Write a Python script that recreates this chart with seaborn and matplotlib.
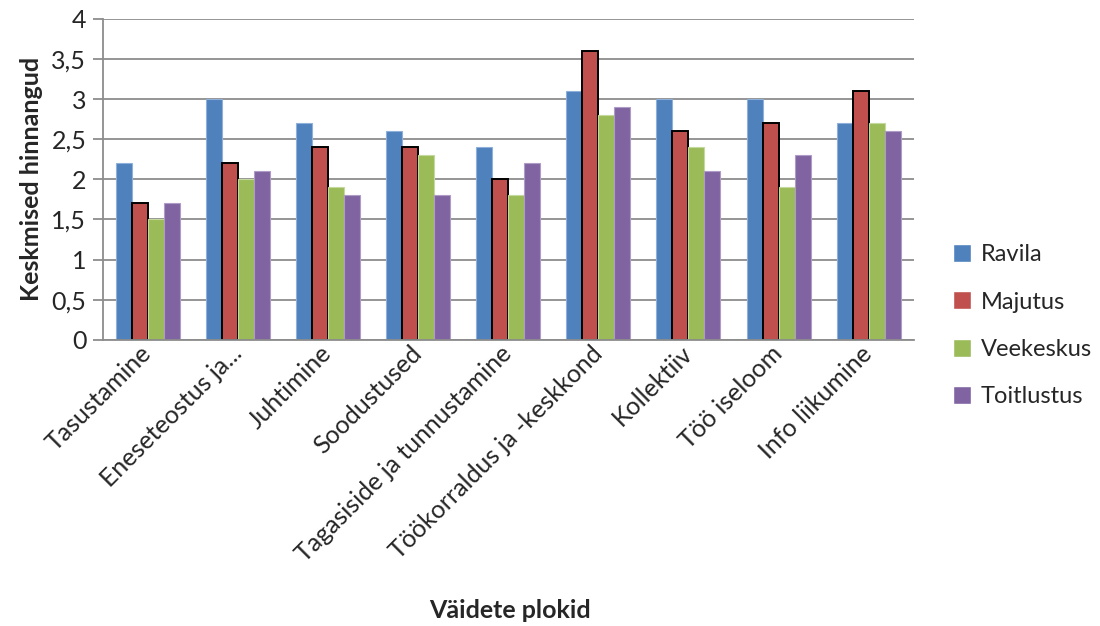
import pandas as pd
import seaborn as sns
import matplotlib.pyplot as plt
from matplotlib.transforms import ScaledTranslation

# Values
categories = ['Tasustamine', 'Eneseteostus ja...', 'Juhtimine', 'Soodustused',
              'Tagasiside ja tunnustamine', 'Töökorraldus ja -keskkond',
              'Kollektiiv', 'Töö iseloom', 'Info liikumine']
series = ['Ravila', 'Majutus', 'Veekeskus', 'Toitlustus']
ravila = [2.2, 3.0, 2.7, 2.6, 2.4, 3.1, 3.0, 3.0, 2.7]
majutus = [1.7, 2.2, 2.4, 2.4, 2.0, 3.6, 2.6, 2.7, 3.1]
veekeskus = [1.5, 2.0, 1.9, 2.3, 1.8, 2.8, 2.4, 1.9, 2.7]
toitlustus = [1.7, 2.1, 1.8, 1.8, 2.2, 2.9, 2.1, 2.3, 2.6]
y_ticks = [0, 0.5, 1, 1.5, 2, 2.5, 3, 3.5, 4]

df = pd.DataFrame({'plokk': categories, 'Ravila': ravila, 'Majutus': majutus,
                   'Veekeskus': veekeskus, 'Toitlustus': toitlustus})
df = df.melt(id_vars='plokk', var_name='grupp', value_name='hinnang')

palette = {'Ravila': '#4F81BD', 'Majutus': '#C0504D',
           'Veekeskus': '#9BBB59', 'Toitlustus': '#8064A2'}
edges = {'Ravila': '#8FB0DA', 'Majutus': '#000000',
         'Veekeskus': '#C3D99E', 'Toitlustus': '#AE9CC6'}

sns.set_style('white')
plt.rcParams['font.family'] = ['Lato', 'DejaVu Sans']
fs = 18

fig = plt.figure(figsize=(11, 6.26), dpi=100)
ax = fig.add_axes([0.0936, 0.457, 0.737, 0.513])

sns.barplot(data=df, x='plokk', y='hinnang', hue='grupp', hue_order=series,
            palette=palette, width=0.71, saturation=1, ax=ax, legend=True)

# edge colours per series (Majutus gets the black outline)
for cont, name in zip(ax.containers, series):
    for bar in cont:
        bar.set_edgecolor(edges[name])
        bar.set_linewidth(1.4 if name == 'Majutus' else 0.8)

ax.set_ylim(0, 4)
ax.set_xlim(-0.5, len(categories) - 0.5)
ax.set_yticks(y_ticks)
ax.set_yticklabels([f'{t:g}'.replace('.', ',') for t in y_ticks], fontsize=fs)
ax.yaxis.grid(True, color='#8C8C8C', linewidth=1.3)
ax.set_axisbelow(True)

ax.set_xticks(range(len(categories)))
ax.set_xticklabels(categories, rotation=45, ha='right', va='center',
                   rotation_mode='anchor', fontsize=fs)
shift = ScaledTranslation(16 / 100, 0, fig.dpi_scale_trans)
for lab in ax.get_xticklabels():
    lab.set_transform(lab.get_transform() + shift)
ax.tick_params(axis='x', which='major', length=0, pad=7)
ax.set_xticks([i - 0.5 for i in range(len(categories) + 1)], minor=True)
ax.tick_params(axis='x', which='minor', length=7, color='#8C8C8C', width=1.3)
ax.tick_params(axis='y', length=7, color='#8C8C8C', width=1.3, left=True, pad=5)

for side in ['top', 'right']:
    ax.spines[side].set_visible(False)
for side in ['left', 'bottom']:
    ax.spines[side].set_color('#8C8C8C')
    ax.spines[side].set_linewidth(1.3)

ax.set_ylabel('Keskmised hinnangud', fontsize=fs, fontweight='bold', labelpad=6)
ax.set_xlabel('')
fig.text(0.464, 0.025, 'Väidete plokid', fontsize=fs, fontweight='bold',
         ha='center', va='center')

handles, labels = ax.get_legend_handles_labels()
ax.legend(handles, labels, loc='center left', bbox_to_anchor=(0.866, 0.48),
          bbox_transform=fig.transFigure, frameon=False, fontsize=17,
          labelspacing=1.1, handlelength=0.8, handleheight=0.8, handletextpad=0.4,
          borderaxespad=0, borderpad=0)

fig.savefig('out.png', dpi=100)
